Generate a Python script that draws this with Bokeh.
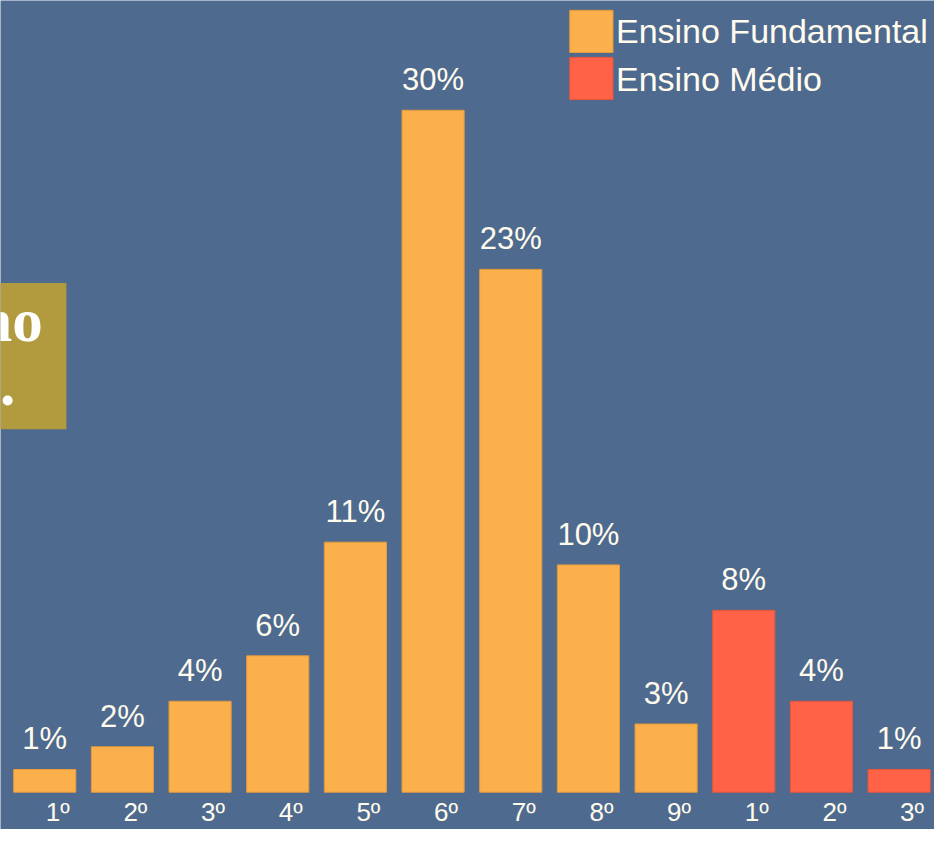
from bokeh.plotting import figure
from bokeh.models import ColumnDataSource, Range1d, LabelSet
from bokeh.core.properties import value
from bokeh.embed import file_html
from bokeh.resources import INLINE

# ---- data ----
grades = ["1º", "2º", "3º", "4º", "5º", "6º", "7º", "8º", "9º", "1º", "2º", "3º"]
values = [1, 2, 4, 6, 11, 30, 23, 10, 3, 8, 4, 1]
levels = ["Ensino Fundamental"] * 9 + ["Ensino Médio"] * 3
legend_labels = ["Ensino Fundamental", "Ensino Médio"]
level_colors = {"Ensino Fundamental": "#fcb04b", "Ensino Médio": "#ff6247"}
level_lines = {"Ensino Fundamental": "#e39a3c", "Ensino Médio": "#e5553c"}
overlay_lines = ["no", "."]

BG = "#4f6a8f"
TXT = "#fffcee"
W, H = 934, 829
SX, SY = W / 950.0, H / 845.0   # reference px -> canvas px

# pixel geometry (reference pixels)
REF_X0 = 45.0     # x of category index 0
REF_STEP = 79.0   # pixels per category
REF_BASE = 807.0  # y (from top) of value 0
REF_PER = 23.17   # pixels per percent

PX_STEP = REF_STEP * SX
PX_PER = REF_PER * SY
x0 = -(REF_X0 * SX) / PX_STEP
x1 = x0 + W / PX_STEP
y0 = -((845.0 - REF_BASE) * SY) / PX_PER
y1 = y0 + H / PX_PER

def rx(px):
    """reference x pixel -> data x"""
    return x0 + px * SX / PX_STEP

def ry(py):
    """reference y pixel (from top) -> data y"""
    return y1 - py * SY / PX_PER

p = figure(width=W, height=H, output_backend="svg", toolbar_location=None,
           x_range=Range1d(x0, x1), y_range=Range1d(y0, y1),
           min_border=0, min_border_left=0, min_border_right=0,
           min_border_top=0, min_border_bottom=0)
p.axis.visible = False
p.grid.visible = False
p.outline_line_color = None
p.background_fill_color = BG
p.border_fill_color = BG

idx = list(range(len(values)))
src = ColumnDataSource(dict(
    x=idx,
    top=values,
    grade=grades,
    level=levels,
    color=[level_colors[l] for l in levels],
    lcolor=[level_lines[l] for l in levels],
    label=[f"{v}%" for v in values],
    zero=[0] * len(values),
))

p.vbar(x="x", top="top", bottom=0, width=0.8, source=src,
       fill_color="color", line_color="lcolor", line_width=1)

# value labels
p.add_layout(LabelSet(x="x", y="top", text="label", source=src,
                      text_font=value("Liberation Sans"), text_font_size="31px",
                      text_color=TXT, text_align="center",
                      text_baseline="alphabetic", y_offset=20))

# category labels
p.add_layout(LabelSet(x="x", y="zero", text="grade", source=src,
                      text_font=value("Liberation Sans"), text_font_size="26px",
                      text_color=TXT, text_align="left",
                      text_baseline="alphabetic", x_offset=1, y_offset=-29))

# legend (manual)
leg_src = ColumnDataSource(dict(
    left=[rx(579), rx(579)],
    right=[rx(623), rx(623)],
    top=[ry(10), ry(58)],
    bottom=[ry(53), ry(101)],
    color=[level_colors[l] for l in legend_labels],
    lcolor=[level_lines[l] for l in legend_labels],
    tx=[rx(626), rx(626)],
    ty=[ry(43), ry(92)],
    label=legend_labels,
))
p.quad(left="left", right="right", top="top", bottom="bottom", source=leg_src,
       fill_color="color", line_color="lcolor", line_width=1)
p.add_layout(LabelSet(x="tx", y="ty", text="label", source=leg_src,
                      text_font=value("Liberation Sans"), text_font_size="34px",
                      text_color=TXT, text_align="left",
                      text_baseline="alphabetic"))

# gold overlay box at left
ov_src = ColumnDataSource(dict(x=[rx(43), rx(15)], y=[ry(347), ry(412)],
                               text=overlay_lines))
p.quad(left=rx(-20), right=rx(67), top=ry(288), bottom=ry(437),
       fill_color="#b29b3e", line_color=None)
p.add_layout(LabelSet(x="x", y="y", text="text", source=ov_src,
                      text_font=value("Liberation Serif"), text_font_style="bold",
                      text_font_size="61px", text_color="#ffffff",
                      text_align="right", text_baseline="alphabetic"))

open("out.html", "w").write(file_html(p, INLINE))
